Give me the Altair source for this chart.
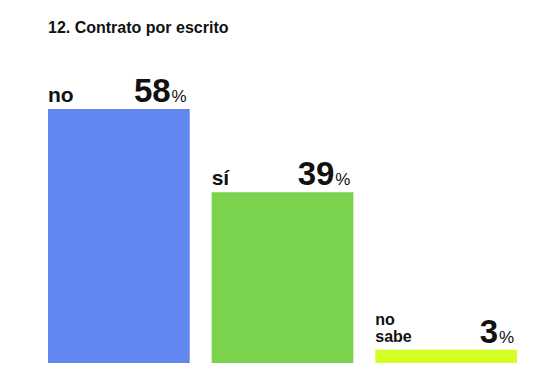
import altair as alt
import pandas as pd

categories = ["no", "sí", "no sabe"]
labels = ["no", "sí", "no\nsabe"]
values = [58, 39, 3]
colors = ["#6286f0", "#7bd24c", "#d4ff26"]

df = pd.DataFrame({"cat": categories, "label": labels, "value": values})

FONT = "Liberation Sans"

x = alt.X("cat:N", sort=categories, axis=None,
          scale=alt.Scale(paddingInner=0.134, paddingOuter=0))
y = alt.Y("value:Q", axis=None, scale=alt.Scale(domain=[0, 71.5], nice=False, zero=True))

base = alt.Chart(df)

bars = base.mark_bar(cornerRadius=0).encode(
    x=x, y=y,
    color=alt.Color("cat:N", scale=alt.Scale(domain=categories, range=colors), legend=None),
)

xs = alt.X("cat:N", sort=categories, axis=None, bandPosition=0)
xe = alt.X("cat:N", sort=categories, axis=None, bandPosition=1)

lab_big = base.transform_filter(alt.datum.cat != "no sabe").mark_text(
    align="left", baseline="alphabetic", dy=-7, font=FONT, fontSize=21,
    fontWeight="bold", color="#111"
).encode(x=xs, y=y, text="label:N")

lab_small = base.transform_filter(alt.datum.cat == "no sabe").mark_text(
    align="left", baseline="alphabetic", dy=-25, font=FONT, fontSize=16,
    fontWeight="bold", color="#111", lineBreak="\n", lineHeight=17
).encode(x=xs, y=y, text="label:N")

num = base.mark_text(
    align="right", baseline="alphabetic", dx=-19, dy=-7, font=FONT, fontSize=33,
    fontWeight="bold", color="#111"
).encode(x=xe, y=y, text=alt.Text("value:Q", format="d"))

pct = base.transform_calculate(p="'%'").mark_text(
    align="right", baseline="alphabetic", dx=-3, dy=-7, font=FONT, fontSize=17,
    color="#111"
).encode(x=xe, y=y, text="p:N")

chart = alt.layer(bars, lab_big, lab_small, num, pct).properties(
    width=469, height=313,
    background="white",
    title=alt.TitleParams("12. Contrato por escrito", anchor="start", font=FONT,
                          fontSize=16, fontWeight="bold", color="#111", offset=14),
    autosize=alt.AutoSizeParams(type="none"),
    padding={"left": 48, "top": 50, "right": 0, "bottom": 0},
).configure_view(stroke=None)

chart.save("out.html", embed_options={"renderer": "svg", "actions": False})
